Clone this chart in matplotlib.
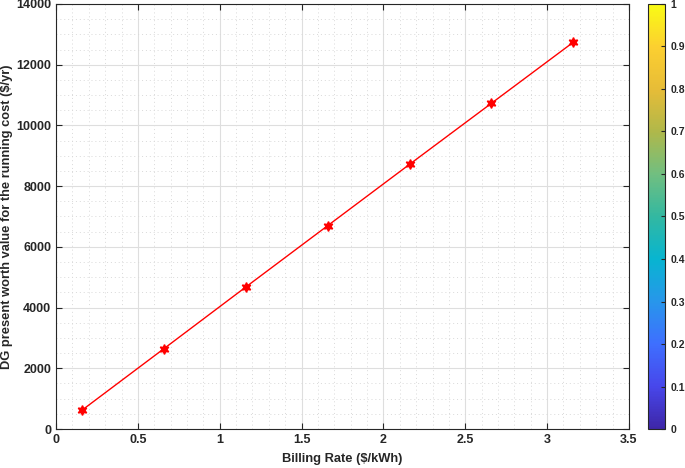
import numpy as np
import matplotlib
matplotlib.use('Agg')
import matplotlib.pyplot as plt
from matplotlib.colors import LinearSegmentedColormap
from matplotlib.ticker import MultipleLocator
import matplotlib as mpl

plt.rcParams['font.family'] = ['Liberation Sans', 'DejaVu Sans']
plt.rcParams['font.weight'] = 'bold'

# data
billing_rate = [0.16, 0.66, 1.16, 1.66, 2.16, 2.66, 3.16]
dg_cost = [626, 2650, 4680, 6700, 8720, 10730, 12740]

# approximate parula
parula_stops = [
    (0.2422, 0.1504, 0.6603), (0.2803, 0.2782, 0.9221), (0.2440, 0.4358, 0.9988),
    (0.1540, 0.5902, 0.9218), (0.0297, 0.7082, 0.8163), (0.1986, 0.7214, 0.6310),
    (0.4420, 0.7481, 0.5033), (0.6868, 0.7216, 0.2909), (0.9045, 0.7373, 0.2177),
    (0.9892, 0.8136, 0.1885), (0.9769, 0.9839, 0.0805),
]
parula = LinearSegmentedColormap.from_list('parula', parula_stops)

axc = (0.15, 0.15, 0.15)

fig = plt.figure(figsize=(6.85, 4.68), dpi=100)
ax = fig.add_axes([0.0818, 0.0833, 0.8364, 0.9082])

ax.plot(billing_rate, dg_cost, color='red', lw=1.0, marker=(6, 1, 0), markersize=7,
        markeredgewidth=1.0, zorder=3)

ax.set_xlim(0, 3.5)
ax.set_ylim(0, 14000)
ax.xaxis.set_major_locator(MultipleLocator(0.5))
ax.xaxis.set_minor_locator(MultipleLocator(0.1))
ax.yaxis.set_major_locator(MultipleLocator(2000))
ax.yaxis.set_minor_locator(MultipleLocator(500))
ax.xaxis.set_major_formatter(plt.FuncFormatter(lambda v, p: f'{v:g}'))

ax.grid(which='major', color=(0.87, 0.87, 0.87), lw=0.8, ls='-')
ax.grid(which='minor', color=(0.85, 0.85, 0.85), lw=0.7, ls=(0, (1, 3)))
ax.set_axisbelow(True)

for s in ax.spines.values():
    s.set_color(axc)
    s.set_linewidth(0.8)

ax.tick_params(which='both', direction='in', top=True, right=True, colors=axc,
               labelsize=9, labelcolor=axc)
ax.tick_params(which='major', length=4)
ax.tick_params(which='minor', length=0)

ax.set_xlabel('Billing Rate ($/kWh)', fontsize=9.3, fontweight='bold', color=axc, labelpad=5)
ax.set_ylabel('DG present worth value for the running cost ($/yr)', fontsize=9.3,
              fontweight='bold', color=axc)
ax.yaxis.set_label_coords(-0.075, 0.5)

cax = fig.add_axes([0.946, 0.0833, 0.0248, 0.9082])
cb = fig.colorbar(mpl.cm.ScalarMappable(norm=mpl.colors.Normalize(0, 1), cmap=parula),
                  cax=cax, ticks=np.arange(0, 1.01, 0.1))
cb.ax.yaxis.set_major_formatter(plt.FuncFormatter(lambda v, p: f'{v:g}'))
cb.outline.set_edgecolor(axc)
cb.outline.set_linewidth(0.8)
cb.ax.tick_params(direction='in', length=3, labelsize=7.5, colors=axc, pad=4)

fig.savefig('out.png', dpi=100)
